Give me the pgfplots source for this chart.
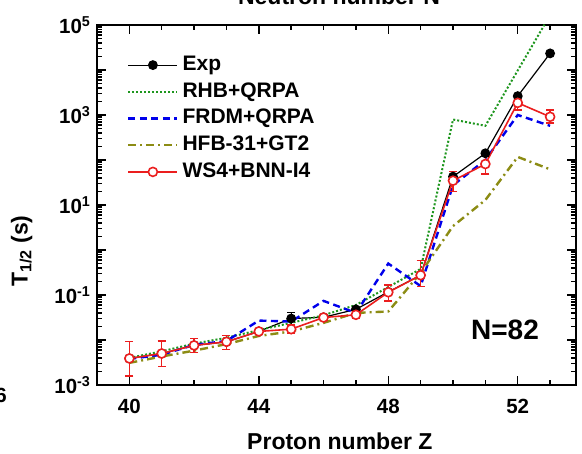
\documentclass[border=0pt]{standalone}
\usepackage{pgfplots}
\pgfplotsset{compat=1.18}
\usepackage{fontspec}
\setmainfont{Liberation Sans}
\definecolor{rhbgreen}{RGB}{30,150,30}
\definecolor{frdmblue}{RGB}{0,0,235}
\definecolor{hfbolive}{RGB}{140,140,20}
\definecolor{wsred}{RGB}{235,30,30}
\begin{document}
\begin{tikzpicture}[font=\bfseries]
\begin{axis}[
  at={(0pt,0pt)}, anchor=south west,
  scale only axis, width=479pt, height=360pt,
  xmin=39, xmax=53.8, ymode=log, ymin=1e-3, ymax=1e5,
  xtick={40,44,48,52}, xticklabels={40,44,48,52},
  minor xtick={41,42,43,45,46,47,49,50,51,53},
  ytick={1e-3,1e-2,1e-1,1,1e1,1e2,1e3,1e4,1e5},
  yticklabels={10\textsuperscript{-3},,10\textsuperscript{-1},,10\textsuperscript{1},,10\textsuperscript{3},,10\textsuperscript{5}},
  minor ytick={2e-3,3e-3,4e-3,5e-3,6e-3,7e-3,8e-3,9e-3,
    2e-2,3e-2,4e-2,5e-2,6e-2,7e-2,8e-2,9e-2,
    0.2,0.3,0.4,0.5,0.6,0.7,0.8,0.9,
    2,3,4,5,6,7,8,9,
    20,30,40,50,60,70,80,90,
    200,300,400,500,600,700,800,900,
    2000,3000,4000,5000,6000,7000,8000,9000,
    20000,30000,40000,50000,60000,70000,80000,90000},
  tick align=inside, tick pos=both,
  major tick length=9pt, minor tick length=5pt,
  axis line style={line width=2.2pt},
  every tick/.style={black, line width=1.4pt},
  tick label style={font=\fontsize{20.5}{22}\selectfont\bfseries},
  xticklabel style={yshift=-11pt},
  yticklabel style={xshift=-3pt},
  xlabel={Proton number Z},
  ylabel={T\textsubscript{1/2} (s)},
  label style={font=\fontsize{23}{26}\selectfont\bfseries},
  xlabel style={at={(axis description cs:0.507,-0.156)}, anchor=center},
  ylabel style={at={(axis description cs:-0.157,0.372)}, anchor=center},
  legend style={draw=none, fill=none, at={(axis description cs:0.0626,0.919)}, anchor=north west,
    inner sep=0pt, row sep=5.2pt, column sep=3pt,
    nodes={inner sep=1pt, text height=15pt, text depth=4.5pt},
    font=\fontsize{21}{23}\selectfont\bfseries},
  legend cell align=left,
  legend image code/.code={\draw[mark repeat=2,mark phase=2,#1] plot coordinates {(0pt,0pt) (24.5pt,0pt) (49pt,0pt)};},
]
\addplot[black, line width=1.2pt, mark=*, mark size=4.3pt] coordinates {
 (40,0.0039)(41,0.005)(42,0.0076)(43,0.0091)(44,0.0155)(45,0.030)(46,0.032)
 (47,0.048)(48,0.117)(49,0.275)(50,42.7)(51,141)(52,2630)(53,23400)};
\addlegendentry{Exp}
\addplot[rhbgreen, line width=2pt, dotted] coordinates {
 (40,0.0040)(41,0.0056)(42,0.0083)(43,0.0112)(44,0.0166)(45,0.024)(46,0.0355)
 (47,0.060)(48,0.15)(49,0.38)(50,794)(51,575)(52,9772)(53,166000)};
\addlegendentry{RHB+QRPA}
\addplot[frdmblue, line width=2.4pt, dash pattern=on 7pt off 4.5pt] coordinates {
 (40,0.0038)(41,0.0047)(42,0.0078)(43,0.0095)(44,0.027)(45,0.0257)(46,0.074)
 (47,0.040)(48,0.50)(49,0.158)(50,27.5)(51,100)(52,1000)(53,575)};
\addlegendentry{FRDM+QRPA}
\addplot[hfbolive, line width=2.4pt, dash pattern=on 8pt off 4pt on 2pt off 4pt] coordinates {
 (40,0.0031)(41,0.0043)(42,0.0058)(43,0.0081)(44,0.0123)(45,0.0155)(46,0.024)
 (47,0.040)(48,0.043)(49,0.31)(50,3.4)(51,12.9)(52,117)(53,62)};
\addlegendentry{HFB-31+GT2}
\addplot[black, forget plot, mark=none, draw=none, line width=1.2pt,
  error bars/.cd, y dir=both, y explicit,
  error bar style={black, line width=1.2pt},
  error mark options={rotate=90, mark size=4pt, line width=1.2pt, black}] coordinates {
 (45,0.030) += (0,0.0107) -= (0,0.008)};
\addplot[wsred, line width=1.6pt, mark=*, mark size=4.5pt,
  mark options={fill=white, draw=wsred, line width=1.6pt},
  error bars/.cd, y dir=both, y explicit,
  error bar style={wsred, line width=1.3pt},
  error mark options={rotate=90, mark size=4pt, line width=1.3pt, wsred}] coordinates {
 (40,0.00389) += (0,0.00523) -= (0,0.00231)
 (41,0.00501) += (0,0.00454) -= (0,0.00244)
 (42,0.00759) += (0,0.00337) -= (0,0.00234)
 (43,0.00912) += (0,0.00347) -= (0,0.00295)
 (44,0.0155) += (0,0.0027) -= (0,0.0023)
 (45,0.0174) += (0,0.004) -= (0,0.0033)
 (46,0.0316) += (0,0.0047) -= (0,0.0041)
 (47,0.0363) += (0,0.0074) -= (0,0.0061)
 (48,0.115) += (0,0.051) -= (0,0.041)
 (49,0.275) += (0,0.30) -= (0,0.12)
 (50,34.7) += (0,20.3) -= (0,14.7)
 (51,81.3) += (0,47.5) -= (0,32.3)
 (52,1862) += (0,768) -= (0,574)
 (53,912) += (0,376) -= (0,251)};
\addlegendentry{WS4+BNN-I4}
\end{axis}
\node[font=\fontsize{28}{30}\selectfont\bfseries] at (408pt,55pt) {N=82};
\node[font=\fontsize{23}{26}\selectfont\bfseries, anchor=base] at (242pt,380.5pt) {Neutron number N};
\node[font=\fontsize{20.5}{22}\selectfont\bfseries, anchor=base east, inner sep=0pt] at (-90pt,-18pt) {6};
\pgfresetboundingbox
\path[use as bounding box] (-97pt,-69pt) rectangle (485pt,385pt);
\end{tikzpicture}
\end{document}
